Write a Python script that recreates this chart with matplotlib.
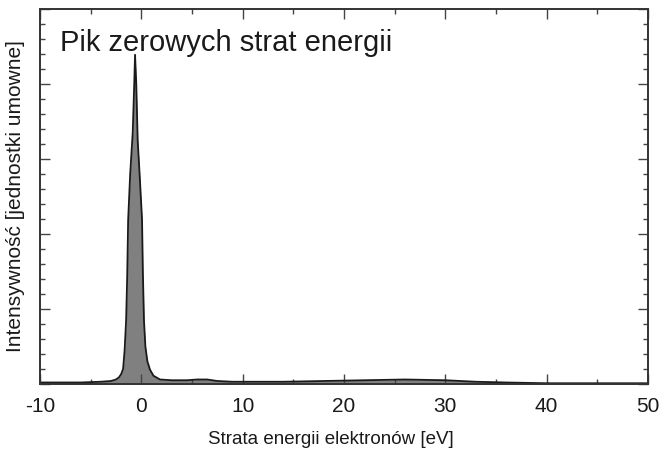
import matplotlib.pyplot as plt
from matplotlib.ticker import MultipleLocator, NullFormatter

# EELS spectrum (intensity in arbitrary units, 0..5)
energy = [-10, -6, -4, -3, -2.5, -2.2, -2.0, -1.8, -1.65, -1.5, -1.4, -1.3,
          -1.1, -0.85, -0.7, -0.62, -0.5, -0.36, -0.15, 0.07, 0.15, 0.26,
          0.4, 0.6, 0.86, 1.2, 1.84, 3.0, 4.5, 5.5, 6.5, 7.5, 9, 11, 14,
          18, 22, 26, 30, 33, 36, 40, 45, 50]
intensity = [0.02, 0.02, 0.03, 0.04, 0.06, 0.09, 0.13, 0.2, 0.45, 0.85, 1.4,
             2.19, 2.8, 3.35, 4.0, 4.39, 4.0, 3.25, 2.75, 2.19, 1.5, 0.85,
             0.5, 0.3, 0.19, 0.11, 0.06, 0.05, 0.05, 0.06, 0.06, 0.04, 0.03,
             0.03, 0.03, 0.04, 0.05, 0.06, 0.05, 0.03, 0.02, 0.01, 0.01, 0.01]

x_range = (-10, 50)
y_range = (0, 5)
title = "Pik zerowych strat energii"
x_label = "Strata energii elektronów [eV]"
y_label = "Intensywność [jednostki umowne]"

plt.rcParams['font.family'] = ['Liberation Sans', 'DejaVu Sans']
plt.rcParams['axes.unicode_minus'] = False

fig = plt.figure(figsize=(6.59, 4.5), dpi=100)
ax = fig.add_axes([40 / 659, 66 / 450, 608 / 659, 375 / 450])

ax.fill_between(energy, intensity, 0, color="#808080", linewidth=0)
ax.plot(energy, intensity, color="#1a1a1a", linewidth=1.3)

ax.set_xlim(*x_range)
ax.set_ylim(*y_range)

ax.xaxis.set_major_locator(MultipleLocator(10))
ax.xaxis.set_minor_locator(MultipleLocator(5))
ax.yaxis.set_major_locator(MultipleLocator(1))
ax.yaxis.set_minor_locator(MultipleLocator(0.2))
ax.yaxis.set_major_formatter(NullFormatter())

ax.tick_params(which="both", direction="in", top=True, right=True,
               color="#444444", width=1.0)
ax.tick_params(which="major", length=7, labelsize=15, pad=9,
               labelcolor="#1a1a1a")
ax.tick_params(which="minor", length=3.5)

for side in ("left", "right"):
    ax.spines[side].set_color("#333333")
    ax.spines[side].set_linewidth(1.4)
for side in ("top", "bottom"):
    ax.spines[side].set_color("#333333")
    ax.spines[side].set_linewidth(1.4)
    ax.spines[side].set_linestyle((0, (3, 1)))

ax.text(0.033, 0.91, title, transform=ax.transAxes, fontsize=21,
        color="#1a1a1a", va="center", ha="left")

ax.set_xlabel(x_label, fontsize=13.5, color="#1a1a1a")
ax.xaxis.set_label_coords((331 - 40) / 608, -0.125)
ax.set_ylabel(y_label, fontsize=15, color="#1a1a1a")
ax.yaxis.set_label_coords(-0.024, 0.5)

fig.savefig("out.png", dpi=100)
